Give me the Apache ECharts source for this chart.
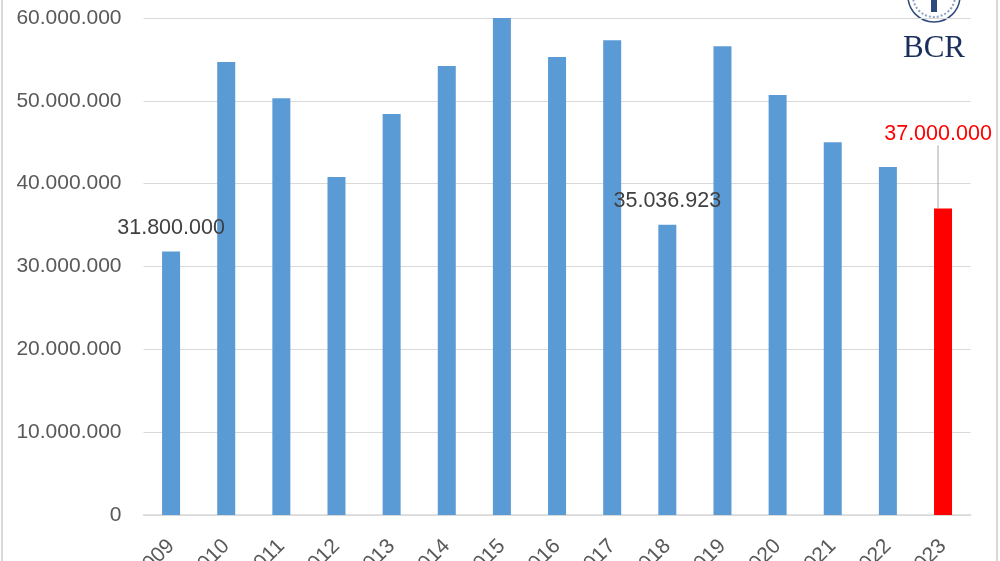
<!DOCTYPE html>
<html><head><meta charset="utf-8">
<script src="https://cdn.jsdelivr.net/npm/echarts@6/dist/echarts.min.js"></script>
<style>html,body{margin:0;padding:0;background:#fff}#c{width:1000px;height:561px}</style>
</head><body><div id="c"></div>
<script>
const categories = ['2009','2010','2011','2012','2013','2014','2015','2016','2017','2018','2019','2020','2021','2022','2023'];
const values = [31800000,54700000,50300000,40800000,48400000,54200000,60000000,55300000,57300000,35036923,56600000,50700000,45000000,42000000,37000000];
const labeledYears = ['2009','2018','2023'];
const yTicks = {min:0,max:60000000,interval:10000000};

function fmt(v){return String(v).replace(/\B(?=(\d{3})+(?!\d))/g,'.');}
const FONT = 'Liberation Sans';
const data = values.map((v,i)=>{
  const d = {value:v, itemStyle:{color: i===values.length-1 ? '#FF0000' : '#5B9BD5'}};
  if (labeledYears.includes(categories[i])) {
    d.label = {show:true, position:'top', distance:13, formatter:p=>fmt(p.value),
      color: i===values.length-1 ? '#FF0000' : '#404040', fontSize:21.5, fontFamily:FONT};
    if (i===values.length-1) {
      d.labelLine = {show:true, lineStyle:{color:'#A6A6A6', width:1}};
    }
  }
  return d;
});
const chart = echarts.init(document.getElementById('c'));
chart.setOption({
  animation:false,
  grid:{left:143.5, right:29.4, top:18, bottom:46, containLabel:false, outerBoundsMode:'none'},
  xAxis:{type:'category', data:categories,
    axisLine:{lineStyle:{color:'#D9D9D9', width:1.5}}, axisTick:{show:false},
    axisLabel:{rotate:45, margin:28, fontSize:21, color:'#595959', fontFamily:FONT, interval:0}},
  yAxis:{type:'value', min:yTicks.min, max:yTicks.max, interval:yTicks.interval,
    axisLine:{show:false}, axisTick:{show:false},
    splitLine:{lineStyle:{color:'#D9D9D9', width:1}},
    axisLabel:{formatter:v=>fmt(v), fontSize:21, color:'#595959', fontFamily:FONT, margin:22}},
  series:[{type:'bar', data:data, barWidth:18,
    labelLayout:function(p){ if(p.dataIndex===values.length-1){ return {dy:-50, dx:-5}; } return {}; },
    labelLine:{show:false}
  }],
  graphic:[
    {type:'rect', shape:{x:1,y:0,width:2,height:561}, style:{fill:'#D9D9D9'}},
    {type:'rect', shape:{x:996,y:0,width:2,height:561}, style:{fill:'#D9D9D9'}},
    {type:'circle', shape:{cx:934, cy:-4, r:26}, style:{fill:'none', stroke:'#2E4A7D', lineWidth:1.5}},
    {type:'circle', shape:{cx:934, cy:-4, r:21}, style:{fill:'none', stroke:'#8FA3C4', lineWidth:2, lineDash:[2,2]}},
    {type:'rect', shape:{x:931,y:0,width:6,height:12}, style:{fill:'#2E4A7D'}},
    {type:'text', style:{text:'BCR', x:934, y:49, align:'center', verticalAlign:'middle',
      font:'31px "Liberation Serif", "DejaVu Serif", serif', fill:'#1B2F5C'}}
  ]
});
</script></body></html>
